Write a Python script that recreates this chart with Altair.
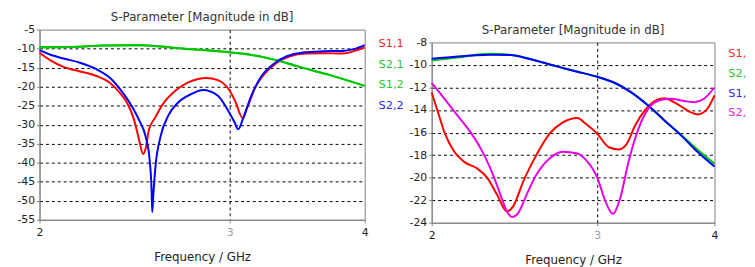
import altair as alt
import pandas as pd

FONT = "DejaVu Sans"

# ---------------- Left panel (frequencies in GHz, magnitudes in dB) ----------------
L_S11_f = [2.000, 2.047, 2.105, 2.180, 2.258, 2.322, 2.371, 2.413, 2.447, 2.473, 2.494, 2.508,
           2.525, 2.561, 2.597, 2.671, 2.746, 2.805, 2.852, 2.925, 3.000, 3.038, 3.083, 3.115,
           3.168, 3.229, 3.318, 3.410, 3.534, 3.662, 3.819, 3.925, 4.000]
L_S11_db = [-11.1, -13.1, -14.8, -16.0, -17.2, -18.9, -21.5, -24.5, -28.8, -34.0, -37.7, -36.2,
            -31.4, -28.0, -24.9, -21.1, -18.9, -18.0, -17.7, -18.3, -21.1, -24.1, -28.2, -25.4,
            -20.2, -16.7, -13.7, -12.0, -11.3, -11.2, -11.3, -10.5, -9.7]

L_S21_f = [2.000, 2.180, 2.288, 2.436, 2.488, 2.671, 2.805, 2.834, 3.000, 3.135, 3.318, 3.460,
           3.709, 4.000]
L_S21_db = [-9.65, -9.5, -9.15, -9.1, -9.1, -9.8, -10.27, -10.35, -10.96, -11.6, -13.1, -14.6,
            -16.9, -19.8]

L_S12_f = L_S21_f
L_S12_db = L_S21_db

L_S22_f = [2.000, 2.047, 2.105, 2.180, 2.258, 2.322, 2.387, 2.438, 2.473, 2.508, 2.529, 2.540,
           2.543, 2.550, 2.561, 2.588, 2.633, 2.689, 2.766, 2.834, 2.925, 2.977, 3.030, 3.055,
           3.083, 3.137, 3.204, 3.295, 3.388, 3.509, 3.662, 3.819, 3.925, 4.000]
L_S22_db = [-10.4, -11.6, -12.6, -13.7, -15.4, -17.6, -21.5, -25.4, -28.8, -33.2, -39.2, -47.8,
            -53.0, -47.8, -40.9, -33.2, -27.5, -24.1, -21.9, -20.9, -22.4, -25.4, -29.3, -31.2,
            -28.8, -22.8, -17.6, -14.0, -12.0, -11.0, -10.7, -10.6, -10.0, -9.1]

# ---------------- Right panel ----------------
R_S11_f = [2.000, 2.031, 2.064, 2.114, 2.166, 2.237, 2.291, 2.347, 2.405, 2.444, 2.504, 2.585,
           2.670, 2.758, 2.859, 2.915, 3.001, 3.087, 3.162, 3.226, 3.292, 3.370, 3.454, 3.538,
           3.655, 3.775, 3.836, 3.930, 4.000]
R_S11_db = [-12.45, -14.2, -16.0, -17.7, -18.6, -19.2, -20.0, -21.5, -23.0, -22.5, -20.3, -18.0,
            -16.1, -15.1, -14.7, -15.2, -16.1, -17.3, -17.5, -17.0, -15.4, -14.06, -13.2, -12.95,
            -13.5, -14.2, -14.4, -13.9, -12.7]

R_S21_f = [2.000, 2.131, 2.250, 2.310, 2.424, 2.544, 2.711, 2.859, 3.001, 3.134, 3.265, 3.400,
           3.536, 3.685, 3.836, 4.000]
R_S21_db = [-9.6, -9.35, -9.05, -9.0, -9.1, -9.47, -10.1, -10.6, -11.05, -11.6, -12.45, -13.6,
            -14.9, -16.2, -17.5, -18.75]

R_S12_f = [2.000, 2.131, 2.310, 2.424, 2.544, 2.711, 2.859, 3.001, 3.134, 3.265, 3.400, 3.536,
           3.685, 3.836, 4.000]
R_S12_db = [-9.45, -9.24, -9.1, -9.12, -9.47, -10.1, -10.6, -11.05, -11.6, -12.45, -13.6, -14.9,
            -16.25, -17.7, -19.0]

R_S22_f = [2.000, 2.064, 2.131, 2.201, 2.255, 2.310, 2.367, 2.405, 2.434, 2.474, 2.524, 2.585,
           2.670, 2.758, 2.859, 2.917, 3.001, 3.062, 3.117, 3.175, 3.240, 3.319, 3.400, 3.511,
           3.597, 3.715, 3.806, 3.898, 4.000]
R_S22_db = [-11.6, -13.0, -14.5, -16.0, -17.4, -19.2, -21.5, -23.0, -23.5, -23.1, -21.5, -19.75,
            -18.3, -17.7, -17.85, -18.4, -20.0, -22.1, -23.2, -21.8, -18.6, -15.7, -13.9, -13.1,
            -13.0, -13.2, -13.3, -13.0, -12.0]

NAMES = ["S1,1", "S2,1", "S1,2", "S2,2"]
LEFT_COLORS = ["#ff0000", "#00c800", "#00c800", "#0000ff"]
RIGHT_COLORS = ["#ff0000", "#00c800", "#0000ff", "#e800e8"]
LEFT_LEGEND_COLORS = ["#ff2828", "#28c828", "#28c828", "#2828ff"]
RIGHT_LEGEND_COLORS = ["#ff2828", "#28c828", "#2828ff", "#e028e0"]

X_TICKS = [2, 3, 4]
L_Y_TICKS = list(range(-55, -4, 5))
R_Y_TICKS = list(range(-24, -7, 2))

TITLE = "S-Parameter [Magnitude in dB]"
X_TITLE = "Frequency / GHz"


def series_df(f, db):
    return pd.DataFrame({"f": f, "db": db})


def x_enc():
    return alt.X(
        "f:Q",
        scale=alt.Scale(type="log", domain=[2, 4], nice=False, zero=False),
        axis=alt.Axis(
            values=X_TICKS,
            title=X_TITLE,
            labelExpr="'' + datum.value",
            labelColor={"condition": {"test": "datum.value == 3", "value": "#a0a0a0"}, "value": "#222222"},
            gridOpacity={"condition": {"test": "datum.value == 3", "value": 1}, "value": 0},
            labelFlush=False,
        ),
    )


def y_enc(lo, hi, ticks):
    return alt.Y(
        "db:Q",
        scale=alt.Scale(domain=[lo, hi], nice=False, zero=False),
        axis=alt.Axis(
            values=ticks,
            title=None,
            labelExpr="'' + datum.value",
            gridOpacity={"condition": {"test": f"datum.value == {lo} || datum.value == {hi}", "value": 0}, "value": 1},
        ),
    )


def panel(series, colors, legend_colors, lo, hi, ticks, w, h, leg_x, leg_y0, leg_dy, limit=None):
    layers = []
    for (f, db), c in zip(series, colors):
        layers.append(
            alt.Chart(series_df(f, db))
            .mark_line(color=c, strokeWidth=2, interpolate="monotone")
            .encode(x=x_enc(), y=y_enc(lo, hi, ticks))
        )
    for i, (name, c) in enumerate(zip(NAMES, legend_colors)):
        kw = dict(align="left", baseline="middle", font=FONT, fontSize=11.5, color=c)
        if limit is not None:
            kw.update(limit=limit, ellipsis="\u200b")
        layers.append(
            alt.Chart(pd.DataFrame({"name": [name]}))
            .mark_text(**kw)
            .encode(text="name:N", x=alt.value(leg_x), y=alt.value(leg_y0 + i * leg_dy))
        )
    return alt.layer(*layers).properties(
        width=w,
        height=h,
        title=alt.TitleParams(TITLE, font=FONT, fontSize=12, fontWeight="normal", color="#333333", offset=0),
    )


left = panel(
    [(L_S11_f, L_S11_db), (L_S21_f, L_S21_db), (L_S12_f, L_S12_db), (L_S22_f, L_S22_db)],
    LEFT_COLORS, LEFT_LEGEND_COLORS, -55, -5, L_Y_TICKS, 330, 193, 344, 15, 20.7,
)
right = panel(
    [(R_S11_f, R_S11_db), (R_S21_f, R_S21_db), (R_S12_f, R_S12_db), (R_S22_f, R_S22_db)],
    RIGHT_COLORS, RIGHT_LEGEND_COLORS, -24, -8, R_Y_TICKS, 287, 183, 301, 12, 20, limit=20,
)

spacer = (
    alt.Chart(pd.DataFrame({"v": [0]}))
    .mark_point(opacity=0)
    .encode(x=alt.value(0), y=alt.value(0))
    .properties(width=287, height=13, view=alt.ViewBackground(stroke="transparent"))
)

right_col = alt.vconcat(spacer, right, spacing=0, bounds="flush")

chart = (
    alt.hconcat(left, right_col, spacing=68, bounds="flush")
    .properties(padding={"left": 8, "top": 0, "right": 0, "bottom": 0}, background="white")
    .configure_view(stroke="#808080", strokeWidth=1)
    .configure_axis(
        labelFont=FONT,
        labelFontSize=11,
        labelColor="#222222",
        titleFont=FONT,
        titleFontSize=12,
        titleFontWeight="normal",
        titleColor="#222222",
        domainColor="#808080",
        tickColor="#808080",
        tickSize=3,
        labelPadding=2,
        gridColor="#000000",
        gridDash=[3, 3],
        gridWidth=1,
    )
    .configure_axisX(labelPadding=4, titlePadding=14)
)

chart.save("out.html", embed_options={"renderer": "svg", "actions": False})
